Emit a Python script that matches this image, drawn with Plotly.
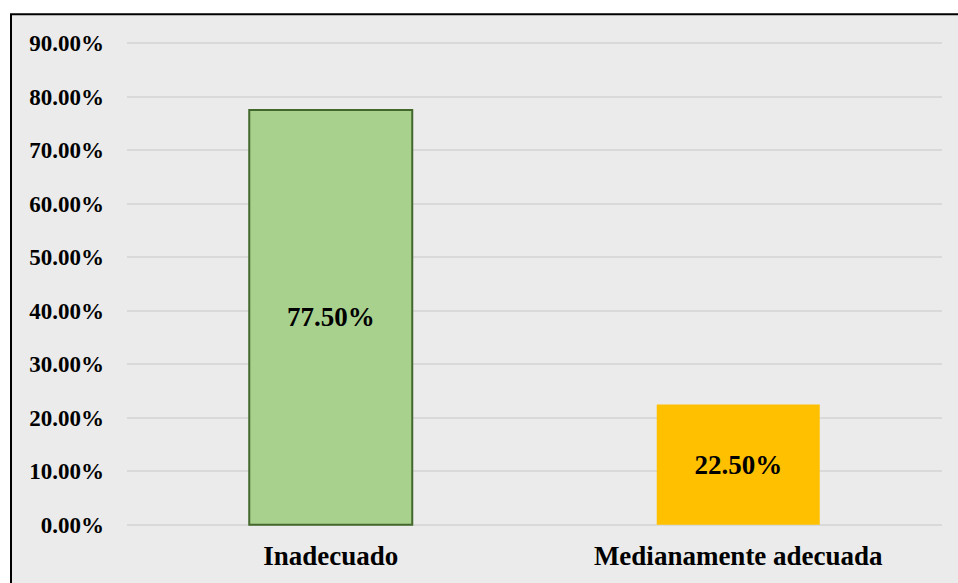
import plotly.graph_objects as go

categories = ["Inadecuado", "Medianamente adecuada"]
values = [0.775, 0.225]
labels = ["77.50%", "22.50%"]
tick_vals = [0, 0.1, 0.2, 0.3, 0.4, 0.5, 0.6, 0.7, 0.8, 0.9]
tick_text = ["0.00%", "10.00%", "20.00%", "30.00%", "40.00%", "50.00%",
             "60.00%", "70.00%", "80.00%", "90.00%"]

font_family = "Liberation Serif, Times New Roman, serif"

fig = go.Figure(go.Bar(
    x=categories, y=values, text=labels,
    textposition="inside", insidetextanchor="middle",
    textfont=dict(family=font_family, size=27, color="black", weight="bold"),
    marker=dict(color=["#A9D18E", "#FFC000"],
                line=dict(color=["#43682B", "rgba(0,0,0,0)"], width=[2, 0])),
    width=0.4,
))

W, H = 958, 583
PAD = 0.004
L, R, T, B = 127, 16, 41, 52
pw, ph = W - L - R, H - T - B

def px(xp):
    return (xp - L) / pw

def py(yp):
    return (H - B - yp) / ph

fig.add_shape(type="rect", xref="paper", yref="paper",
              x0=px(11), x1=px(W + 10), y0=py(H + 10), y1=py(14),
              fillcolor="#EBEBEB", line=dict(color="black", width=2), layer="below")

fig.update_layout(
    width=W, height=H,
    margin=dict(l=L, r=R, t=T, b=B),
    paper_bgcolor="white", plot_bgcolor="rgba(0,0,0,0)",
    showlegend=False,
    font=dict(family=font_family, color="black"),
    xaxis=dict(showgrid=False, showline=False, ticks="",
               tickfont=dict(family=font_family, size=27, color="black", weight="bold"),
               ticklabelstandoff=10),
    yaxis=dict(range=[-PAD, 0.9 + PAD], tickvals=tick_vals, ticktext=tick_text,
               showgrid=True, gridcolor="#D9D9D9", gridwidth=2,
               zeroline=False, showline=False, ticks="",
               tickfont=dict(family=font_family, size=23, color="black", weight="bold"),
               ticklabelstandoff=22),
)

fig.write_html("out.html", config={"displayModeBar": False},
               post_script="document.body.style.margin='0';")
